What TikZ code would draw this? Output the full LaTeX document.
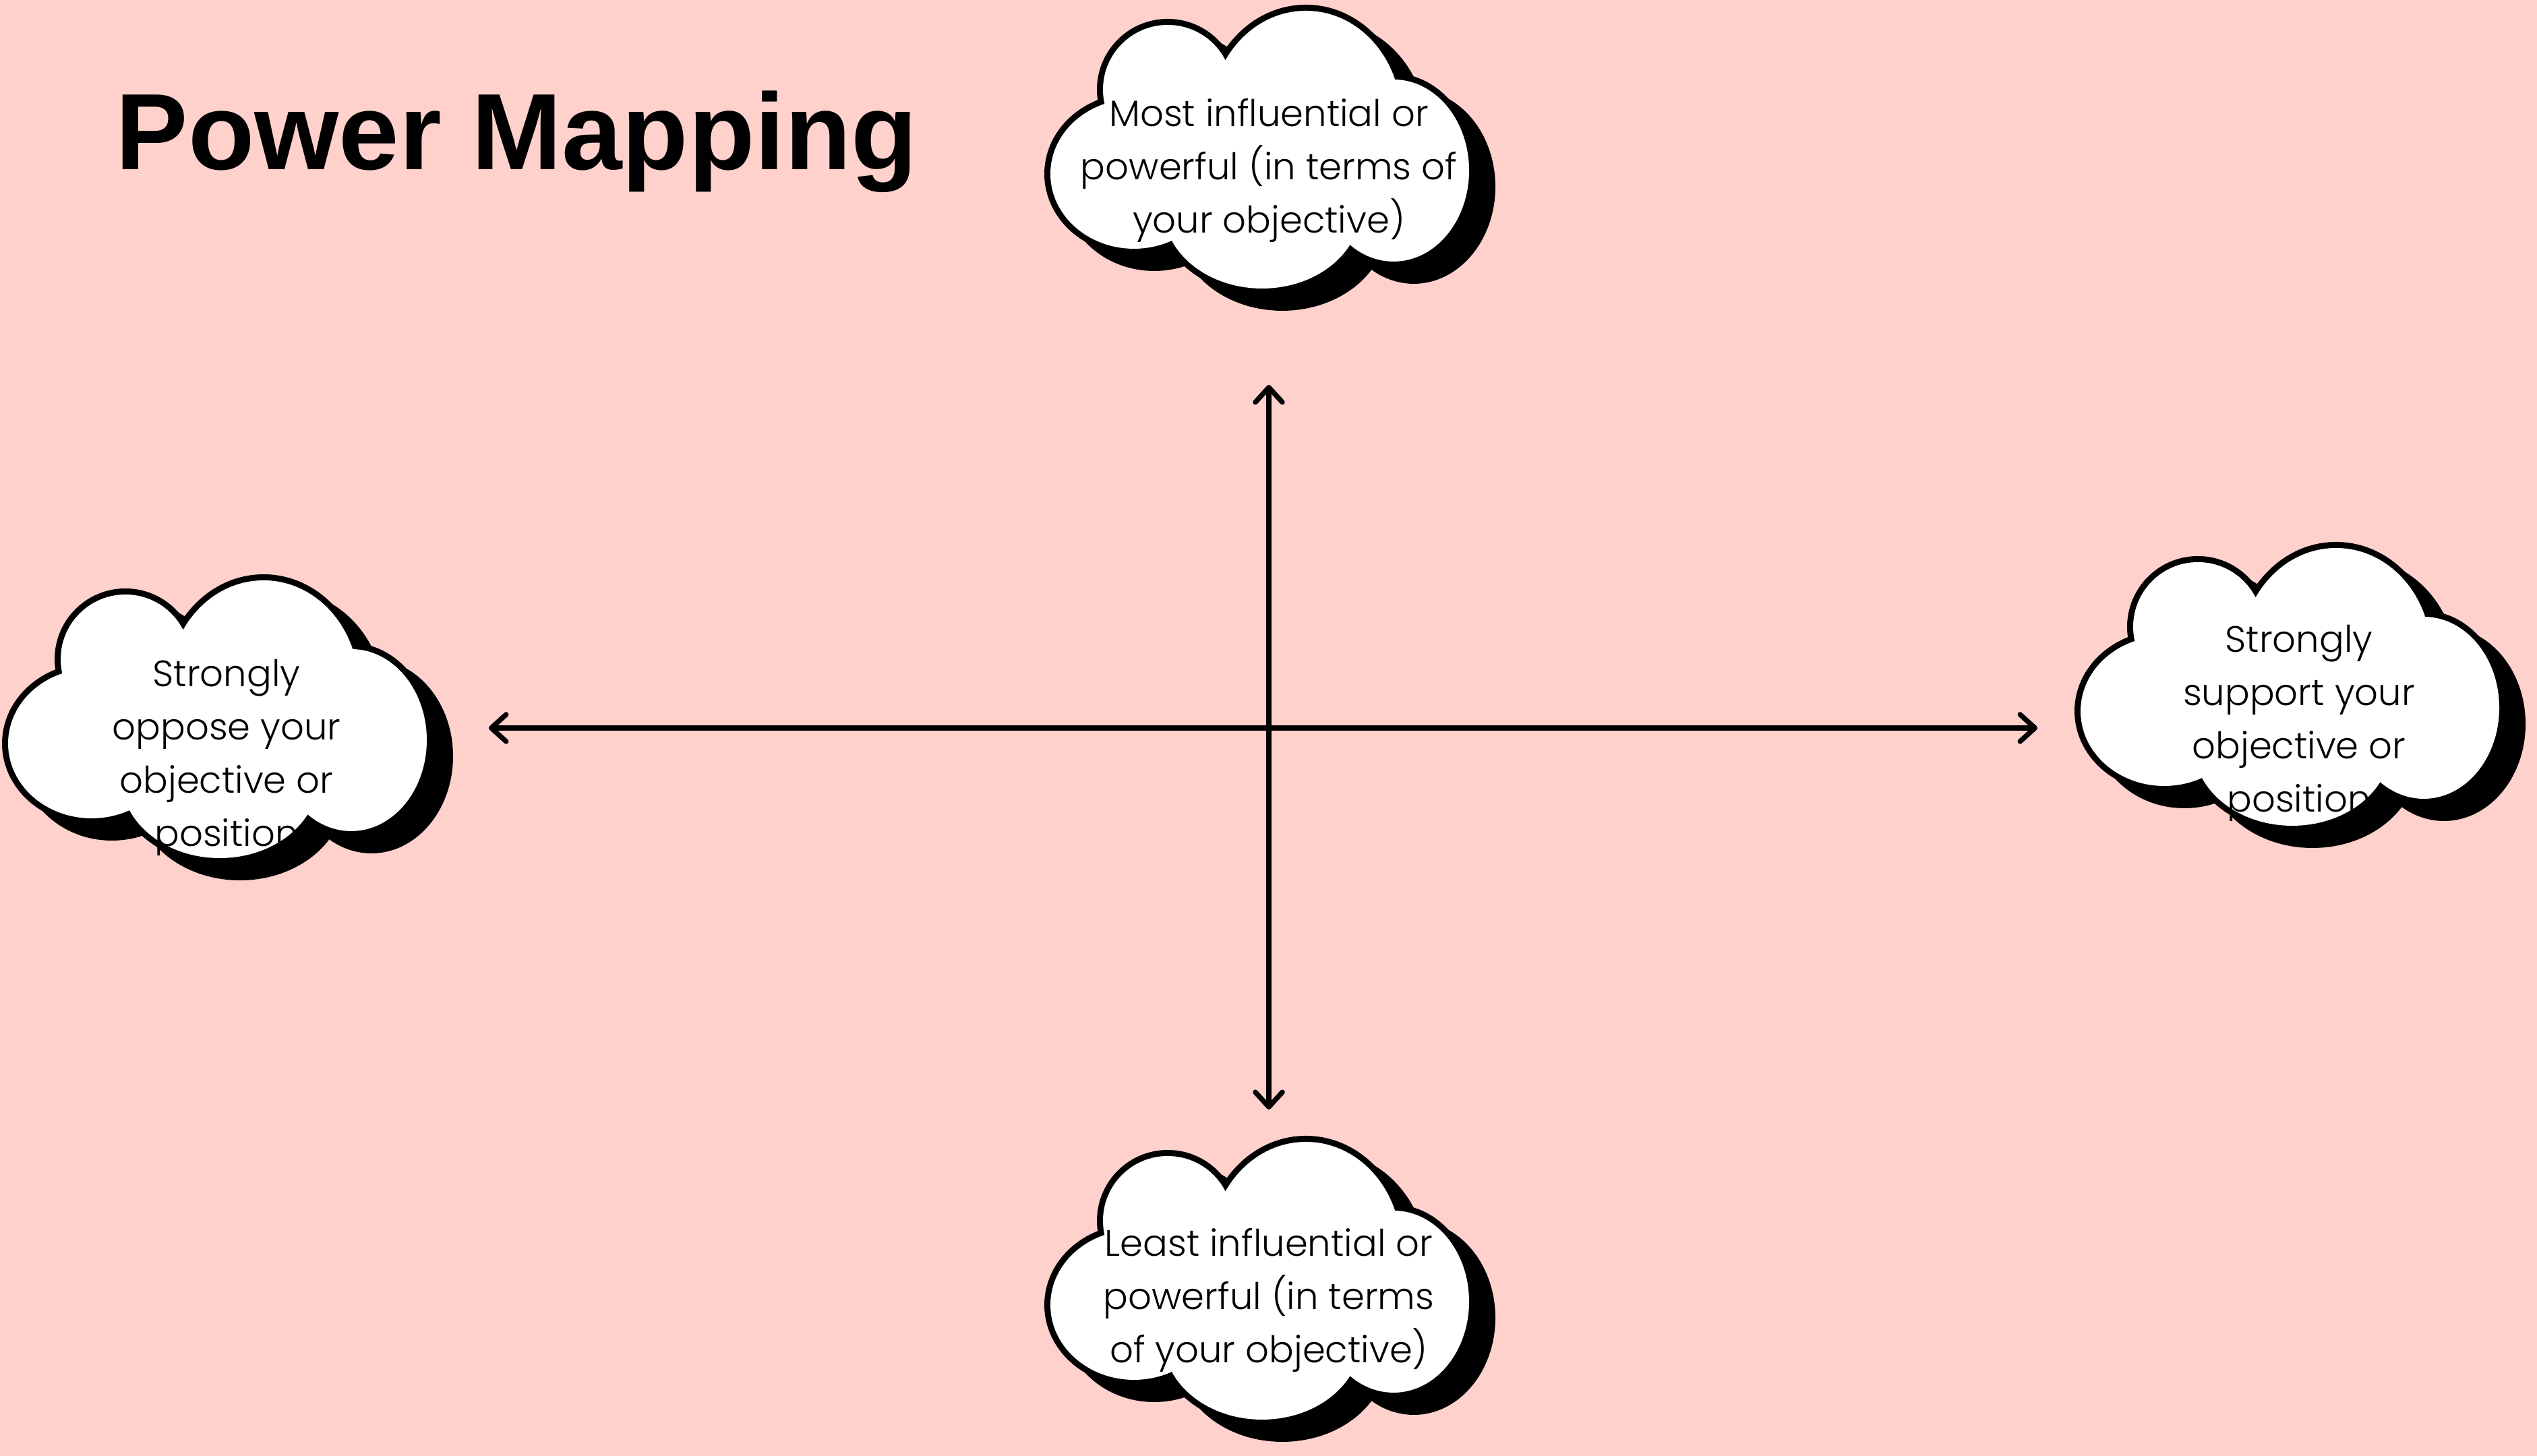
\documentclass[tikz,border=0pt]{standalone}
\usepackage{fontspec}
\setmainfont{Poppins}
\newfontfamily\titlefont{Liberation Sans}
\newfontfamily\cloudfont{Poppins}[UprightFont={* Light}]
\usetikzlibrary{arrows.meta}
\definecolor{fondo}{HTML}{FFD1CC}

% lobi della nuvola (centro della nuvola in (0,0))
\newcommand{\lobi}{(-2,-0.4) ellipse (1.24 and 1.11) (-1.5,0.85) circle (0.96)
  (0.55,0.45) ellipse (1.41 and 1.57) (1.85,-0.35) ellipse (1.12 and 1.35)
  (-0.1,-0.92) ellipse (1.46 and 1.18) (0,-0.2) ellipse (1.9 and 1.2)}

\tikzset{
    nuvola/.pic={
        \filldraw[black, line width=0.18cm, shift={(0.3,-0.24)}] \lobi;
        \draw[black, line width=0.18cm] \lobi;
        \fill[white] \lobi;
    },
    testo/.style={align=center, inner sep=0pt, font=\cloudfont\fontsize{15.5}{22.5}\selectfont},
    asse/.style={line width=0.075cm, line cap=round,
        {Straight Barb[length=2.2mm, width=4mm, round]}-{Straight Barb[length=2.2mm, width=4mm, round]}}
}

\begin{document}
\begin{tikzpicture}
    \useasboundingbox (0,0) rectangle (37.63,21.6);
    % Sfondo
    \fill[fondo] (0,0) rectangle (37.63,21.6);

    % Titolo
    \node[anchor=base west, inner sep=0pt, font=\titlefont\bfseries\fontsize{45.8}{55}\selectfont] (titolo) at (1.71,19.08) {Power Mapping};

    % Nuvole
    \pic at (18.82,19.42) {nuvola};
    \pic at (18.82,2.64) {nuvola};
    \pic at (3.36,10.97) {nuvola};
    \pic at (34.10,11.45) {nuvola};

    % Testi nelle nuvole
    \node[testo] (alto) at (18.82,19.07) {Most influential or\\powerful (in terms of\\your objective)};
    \node[testo] (basso) at (18.82,2.31) {Least influential or\\powerful (in terms\\of your objective)};
    \node[testo] (sinistra) at (3.36,10.36) {Strongly\\oppose your\\objective or\\position};
    \node[testo] (destra) at (34.10,10.87) {Strongly\\support your\\objective or\\position};

    % Assi
    \coordinate (nord) at (18.82,15.89);
    \coordinate (sud) at (18.82,5.14);
    \coordinate (ovest) at (7.25,10.8);
    \coordinate (est) at (30.22,10.8);
    \draw[asse] (sud) -- (nord);
    \draw[asse] (ovest) -- (est);
\end{tikzpicture}
\end{document}
